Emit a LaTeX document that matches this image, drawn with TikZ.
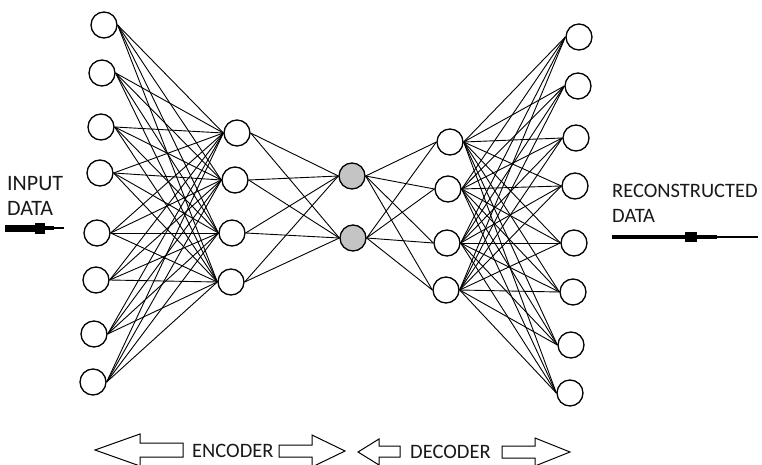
\documentclass[tikz,border=0pt]{standalone}
\usepackage{fontspec}
\setmainfont{Carlito}
\definecolor{txt}{RGB}{25,25,25}
\definecolor{code}{RGB}{196,196,196}
\begin{document}
\begin{tikzpicture}[x=1pt,y=-1pt,
  neuron/.style={circle,draw,line width=1.3pt,fill=white,minimum size=26pt,inner sep=0pt},
  latent/.style={neuron,fill=code},
  link/.style={line width=0.9pt},
  lbl/.style={font=\fontsize{20.5}{25}\selectfont,text=txt,inner sep=0pt,anchor=base west},
  biglbl/.style={lbl,font=\fontsize{22}{25}\selectfont},
  blockarrow/.style={draw,line width=1pt,line join=miter,fill=white}]
\useasboundingbox (0,0) rectangle (762,465);

% input layer
\foreach \i/\x/\y in {1/104/25,2/102/73,3/101/127,4/100/173,5/97/233,6/96/280,7/94/334,8/93/382}
  \node[neuron] (in\i) at (\x,\y) {};
% encoder hidden layer
\foreach \i/\x/\y in {1/237/133,2/235/180,3/232/233,4/231/282}
  \node[neuron] (en\i) at (\x,\y) {};
% code layer
\node[latent] (z1) at (352,176) {};
\node[latent] (z2) at (353,238) {};
% decoder hidden layer
\foreach \i/\x/\y in {1/450/142,2/448/189,3/447/243,4/446/290}
  \node[neuron] (de\i) at (\x,\y) {};
% output layer
\foreach \i/\x/\y in {1/579/37,2/578/86,3/576/138,4/575/186,5/574/243,6/573/292,7/571/345,8/570/393}
  \node[neuron] (out\i) at (\x,\y) {};

% fully connected weights
\foreach \i in {1,...,8}
  \foreach \j in {1,...,4}
    \draw[link] (in\i.east) -- (en\j.west);
\foreach \j in {1,...,4}
  \foreach \k in {1,2}
    \draw[link] (en\j.east) -- (z\k.west);
\foreach \k in {1,2}
  \foreach \j in {1,...,4}
    \draw[link] (z\k.east) -- (de\j.west);
\foreach \j in {1,...,4}
  \foreach \i in {1,...,8}
    \draw[link] (de\j.east) -- (out\i.west);

% input side
\node[biglbl] (inA) at (7,190) {INPUT};
\node[biglbl] (inB) at (7,215) {DATA};
\fill (5,224.5) rectangle (35,231.5);
\fill (35,222.5) rectangle (45,233.5);
\fill (45,226) rectangle (54,230);
\draw[line width=1.4pt] (54,228) -- (64,228);

% output side
\node[lbl] (outA) at (612,197) {RECONSTRUCTED};
\node[lbl] (outB) at (612,222) {DATA};
\fill (612,234.6) rectangle (685,239.4);
\fill (685,232) rectangle (697,242);
\fill (697,234.8) rectangle (717,239.4);
\draw[line width=1.4pt] (717,237) -- (758,237);

% encoder / decoder spans
\draw[blockarrow] (95,450) -- (140,434) -- (140,443) -- (183,443) -- (183,457) -- (140,457) -- (140,466) -- cycle;
\node[lbl] (enc) at (192,457) {ENCODER};
\draw[blockarrow] (279,445) -- (312,445) -- (312,435) -- (345,451) -- (312,467) -- (312,457) -- (279,457) -- cycle;
\draw[blockarrow] (358,452) -- (379,439) -- (379,446) -- (400,446) -- (400,457) -- (379,457) -- (379,465) -- cycle;
\node[lbl] (dec) at (410,458) {DECODER};
\draw[blockarrow] (502,446) -- (535,446) -- (535,438) -- (570,452) -- (535,466) -- (535,458) -- (502,458) -- cycle;
\end{tikzpicture}
\end{document}
